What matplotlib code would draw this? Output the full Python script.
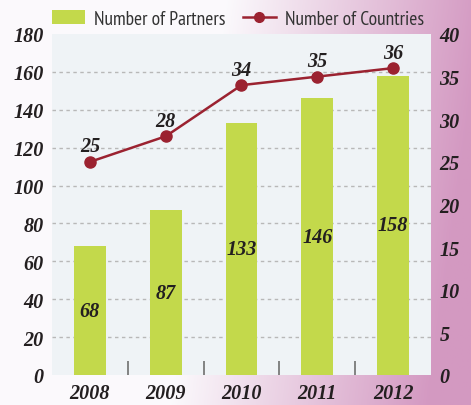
import numpy as np
import matplotlib
matplotlib.use("Agg")
import matplotlib.pyplot as plt
from matplotlib import font_manager
from matplotlib.patches import Patch
from matplotlib.lines import Line2D

years = ["2008", "2009", "2010", "2011", "2012"]
partners = [68, 87, 133, 146, 158]
countries = [25, 28, 34, 35, 36]
left_ticks = [0, 20, 40, 60, 80, 100, 120, 140, 160, 180]
right_ticks = [0, 5, 10, 15, 20, 25, 30, 35, 40]

names = {f.name for f in font_manager.fontManager.ttflist}
narrow = next((n for n in ["PT Sans Narrow", "Roboto Condensed", "Archivo Narrow",
                           "Liberation Sans"] if n in names), "DejaVu Sans")
serif = "Liberation Serif"

bar_color = "#c3d94b"
line_color = "#9b2230"
txt_color = "#231f20"

fig = plt.figure(figsize=(4.71, 4.06), dpi=100)

# background gradient
bg = fig.add_axes([0, 0, 1, 1], zorder=-10)
H, W = 200, 300
xx, yy = np.meshgrid(np.linspace(0, 1, W), np.linspace(1, 0, H))
t = np.clip((xx - 0.36 - 0.12 * (yy)) / 0.55, 0, 1) ** 1.0
white = np.array([0.985, 0.98, 0.99])
pink = np.array([0.83, 0.60, 0.76])
img = white[None, None, :] * (1 - t[..., None]) + pink[None, None, :] * t[..., None]
bg.imshow(img, aspect="auto", extent=[0, 1, 0, 1])
bg.set_axis_off()

ax = fig.add_axes([52 / 471, 30 / 406, 379 / 471, 341 / 406])
ax.set_facecolor("#eff3f6")
x = np.arange(len(years))
ax.bar(x, partners, width=0.42, color=bar_color, zorder=2)
ax.set_xlim(-0.5, len(years) - 0.5)
ax.set_ylim(0, 180)
ax.set_yticks(left_ticks)
ax.set_yticklabels([str(v) for v in left_ticks], fontfamily=serif,
                   fontweight="bold", fontstyle="italic", fontsize=14.5, color=txt_color)
for v in left_ticks[1:-1]:
    ax.axhline(v, linestyle=(0, (2.5, 2.5)), color="#b8b8b8", linewidth=1, zorder=1)
ax.tick_params(axis="y", length=0, pad=6)
for s in ax.spines.values():
    s.set_visible(False)

ax.set_xticks(x)
ax.set_xticklabels(years, fontfamily=serif, fontweight="bold", fontstyle="italic",
                   fontsize=14.5, color=txt_color)
ax.tick_params(axis="x", length=0, pad=6)
ax.set_xticks(x[:-1] + 0.5, minor=True)
ax.tick_params(axis="x", which="minor", direction="in", length=10, width=1.2,
               color="#6f6f6f", bottom=True)

for xi, v in zip(x, partners):
    ax.text(xi, v / 2, str(v), ha="center", va="center", fontfamily=serif,
            fontweight="bold", fontstyle="italic", fontsize=14.5, color=txt_color, zorder=5)

ax2 = ax.twinx()
ax2.set_ylim(0, 40)
ax2.set_yticks(right_ticks)
ax2.set_yticklabels([str(v) for v in right_ticks], fontfamily=serif,
                    fontweight="bold", fontstyle="italic", fontsize=14.5, color=txt_color)
ax2.tick_params(axis="y", length=0, pad=6)
for s in ax2.spines.values():
    s.set_visible(False)
ax2.plot(x, countries, color=line_color, linewidth=1.8, marker="o", markersize=8,
         zorder=4)
for xi, v in zip(x, countries):
    ax2.annotate(str(v), (xi, v), xytext=(0, 4), textcoords="offset points",
                 ha="center", va="bottom", fontfamily=serif, fontweight="bold",
                 fontstyle="italic", fontsize=14.5, color=txt_color)

handles = [Patch(facecolor=bar_color, edgecolor="none"),
           Line2D([0], [0], color=line_color, linewidth=1.8, marker="o", markersize=7)]
fig.legend(handles, ["Number of Partners", "Number of Countries"], ncol=2,
           loc="center", bbox_to_anchor=(238 / 471, 1 - 20 / 406), frameon=False,
           prop={"family": narrow, "size": 14}, handlelength=1.7, handleheight=0.75,
           columnspacing=0.9, handletextpad=0.45, labelcolor="#333333")

fig.savefig("out.png", dpi=100)
